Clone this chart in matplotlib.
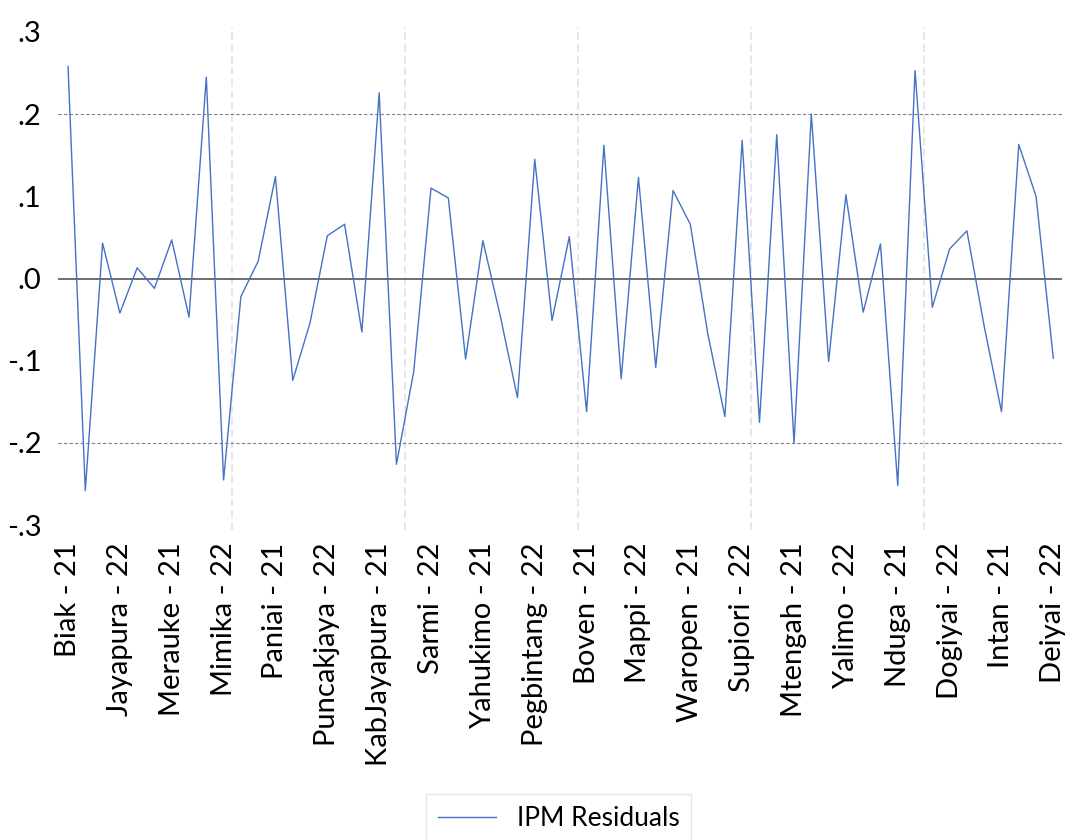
import matplotlib
matplotlib.use("Agg")
import matplotlib.pyplot as plt
import numpy as np

plt.rcParams['font.family'] = ['Lato', 'DejaVu Sans']

# ---- data ----
residuals = [0.258, -0.258, 0.043, -0.042, 0.013, -0.012, 0.047, -0.047, 0.245, -0.245,
             -0.022, 0.021, 0.124, -0.124, -0.054, 0.052, 0.066, -0.065, 0.226, -0.226,
             -0.113, 0.110, 0.098, -0.098, 0.046, -0.045, -0.145, 0.145, -0.051, 0.051,
             -0.162, 0.162, -0.122, 0.123, -0.108, 0.107, 0.066, -0.066, -0.168, 0.168,
             -0.175, 0.175, -0.200, 0.200, -0.101, 0.102, -0.041, 0.042, -0.252, 0.253,
             -0.035, 0.036, 0.058, -0.058, -0.162, 0.163, 0.100, -0.097]

tick_labels = ["Biak - 21", "Jayapura - 22", "Merauke - 21", "Mimika - 22", "Paniai - 21",
               "Puncakjaya - 22", "KabJayapura - 21", "Sarmi - 22", "Yahukimo - 21",
               "Pegbintang - 22", "Boven - 21", "Mappi - 22", "Waropen - 21", "Supiori - 22",
               "Mtengah - 21", "Yalimo - 22", "Nduga - 21", "Dogiyai - 22", "Intan - 21",
               "Deiyai - 22"]
tick_step = 3

y_ticks = [0.3, 0.2, 0.1, 0.0, -0.1, -0.2, -0.3]
y_tick_labels = [".3", ".2", ".1", ".0", "-.1", "-.2", "-.3"]
series_name = "IPM Residuals"

# ---- figure ----
fig = plt.figure(figsize=(10.7, 8.4), dpi=100)
ax = fig.add_axes([0.0542, 0.369, 0.9383, 0.5989])

x = np.arange(len(residuals))

# grid / reference lines
for xv in np.arange(9.5, len(residuals), 10):
    ax.axvline(xv, color='#e6e6e6', lw=1.4, ls=(0, (4, 2)), zorder=1)
for yv in (0.2, -0.2):
    ax.axhline(yv, color='#808080', lw=0.8, ls=(0, (3, 2)), zorder=1)
ax.axhline(0.0, color='#6e6e6e', lw=1.4, zorder=1)

line, = ax.plot(x, residuals, color='#4472C4', lw=1.0, zorder=3, label=series_name)

ax.set_xlim(-0.58, 57.5)
ax.set_ylim(-0.306, 0.306)

ax.set_xticks(x[::tick_step])
ax.set_xticklabels(tick_labels, rotation=90, fontsize=21)
ax.set_yticks(y_ticks)
ax.set_yticklabels(y_tick_labels, fontsize=21)
ax.tick_params(axis='both', length=0)
ax.tick_params(axis='x', pad=9)
ax.tick_params(axis='y', pad=12)

for s in ax.spines.values():
    s.set_visible(False)

leg = fig.legend(handles=[line], loc='upper center', bbox_to_anchor=(0.522, 0.0548),
                 fontsize=19, frameon=True, fancybox=False, handlelength=2.2,
                 borderpad=0.45, handletextpad=0.8, borderaxespad=0)
leg.get_frame().set_edgecolor('#e0e0e0')
leg.get_frame().set_linewidth(1.0)

fig.savefig("out.png", dpi=100)
